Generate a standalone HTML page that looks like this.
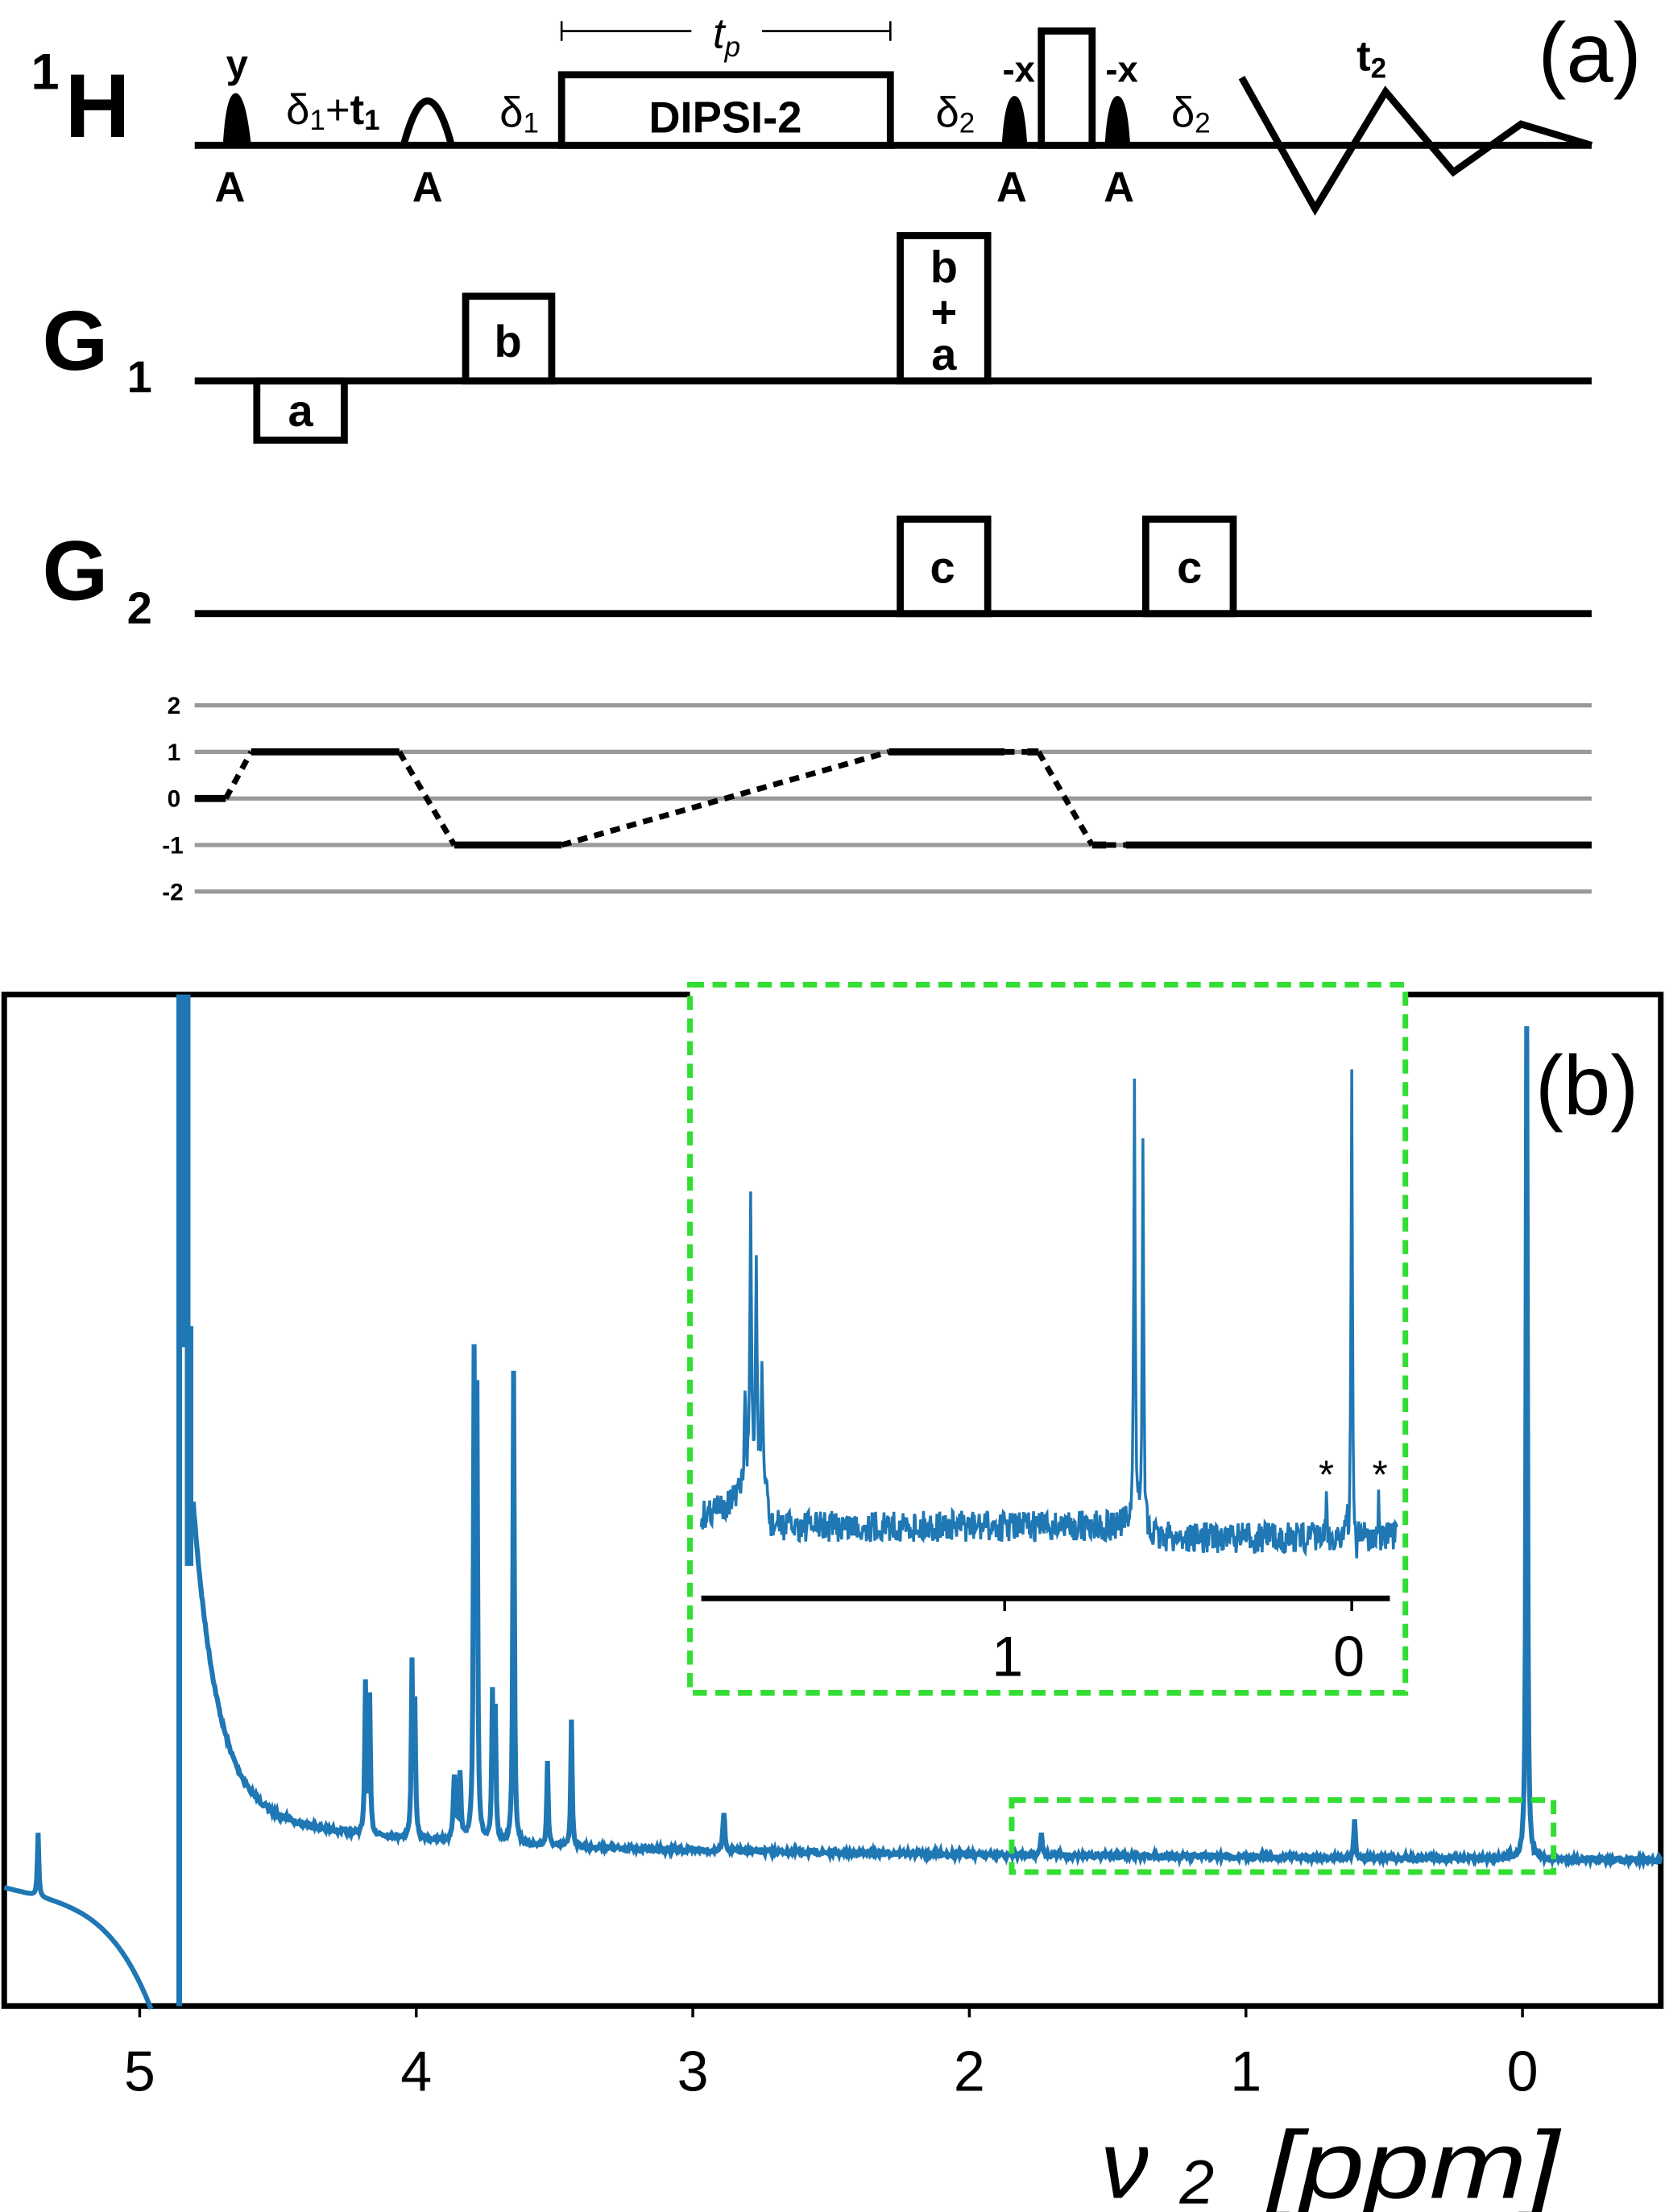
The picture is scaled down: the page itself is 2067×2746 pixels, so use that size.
<!DOCTYPE html>
<html><head><meta charset="utf-8"><style>
html,body{margin:0;padding:0;background:#fff}
svg{display:block}
text{font-family:"Liberation Sans","DejaVu Sans",sans-serif}
</style></head><body>
<svg id="s" width="2067" height="2746" viewBox="0 0 1180 1568" preserveAspectRatio="none" xmlns="http://www.w3.org/2000/svg">
<g fill="none" stroke="#000" stroke-width="5">
<line x1="138" y1="103" x2="1128" y2="103"/>
<rect x="398" y="53" width="233" height="50"/>
<rect x="738" y="22" width="36" height="81"/>
<path d="M286 103 Q303 40 320 103"/>
<polyline points="880,55 932,148 982,65 1030,122 1078,88 1128,103"/>
<line x1="138" y1="270" x2="1128" y2="270"/>
<rect x="330" y="210" width="61" height="60"/>
<rect x="182" y="270" width="62" height="42"/>
<rect x="638" y="167" width="62" height="103"/>
<line x1="138" y1="435" x2="1128" y2="435"/>
<rect x="638" y="368" width="62" height="67"/>
<rect x="812" y="368" width="62" height="67"/>
</g>
<g fill="#000">
<path d="M158 103 Q160 66 167 66 Q174 66 178 103Z"/>
<path d="M710 103 Q712 68 719 68 Q726 68 728 103Z"/>
<path d="M783 103 Q785 68 792 68 Q799 68 801 103Z"/>
</g>
<g stroke="#000" stroke-width="1.5"><line x1="398" y1="22" x2="490" y2="22"/><line x1="540" y1="22" x2="631" y2="22"/><line x1="398" y1="15" x2="398" y2="29"/><line x1="631" y1="15" x2="631" y2="29"/></g>
<text x="515" y="34" font-size="30" font-style="italic" text-anchor="middle">t<tspan font-size="20" dy="6">p</tspan></text>
<g font-weight="bold" text-anchor="middle" font-size="30">
<text x="168" y="55" font-size="28">y</text>
<text x="163" y="143">A</text><text x="303" y="143">A</text><text x="717" y="143">A</text><text x="793" y="143">A</text>
<text x="722" y="58" font-size="26">-x</text><text x="795" y="58" font-size="26">-x</text>
<text x="514" y="94" font-size="31">DIPSI-2</text>
<text x="972" y="50" font-size="30">t<tspan font-size="20" dy="5">2</tspan></text>
<text x="360" y="253" font-size="32">b</text>
<text x="213" y="302" font-size="32">a</text>
<text x="669" y="200" font-size="32">b</text><text x="669" y="232" font-size="32">+</text><text x="669" y="262" font-size="32">a</text>
<text x="668" y="413" font-size="32">c</text><text x="843" y="413" font-size="32">c</text>
</g>
<g font-size="30" text-anchor="middle">
<text x="236" y="88">δ<tspan font-size="20" dy="4">1</tspan><tspan dy="-4">+</tspan><tspan font-weight="bold">t</tspan><tspan font-size="20" dy="4" font-weight="bold">1</tspan></text>
<text x="368" y="90">δ<tspan font-size="20" dy="4">1</tspan></text>
<text x="677" y="90">δ<tspan font-size="20" dy="4">2</tspan></text>
<text x="844" y="90">δ<tspan font-size="20" dy="4">2</tspan></text>
</g>
<text x="22" y="63" font-size="36" font-weight="bold">1</text>
<text x="46" y="97" font-size="64" font-weight="bold">H</text>
<text x="30" y="262" font-size="60" font-weight="bold">G</text><text x="90" y="278" font-size="32" font-weight="bold">1</text>
<text x="30" y="425" font-size="60" font-weight="bold">G</text><text x="90" y="442" font-size="32" font-weight="bold">2</text>
<text x="1090" y="58" font-size="60">(a)</text>
<g stroke="#999" stroke-width="3"><line x1="138" y1="500" x2="1128" y2="500"/><line x1="138" y1="533" x2="1128" y2="533"/><line x1="138" y1="566" x2="1128" y2="566"/><line x1="138" y1="599" x2="1128" y2="599"/><line x1="138" y1="632" x2="1128" y2="632"/></g>
<g font-size="17" font-weight="bold" text-anchor="end"><text x="128" y="506">2</text><text x="128" y="539">1</text><text x="128" y="572">0</text><text x="130" y="605">-1</text><text x="130" y="638">-2</text></g>
<g stroke="#000" stroke-width="5" fill="none">
<line x1="138" y1="566" x2="160" y2="566"/><line x1="178" y1="533" x2="283" y2="533"/><line x1="322" y1="599" x2="398" y2="599"/><line x1="630" y1="533" x2="712" y2="533"/><line x1="728" y1="533" x2="736" y2="533"/><line x1="774" y1="599" x2="784" y2="599"/><line x1="798" y1="599" x2="1128" y2="599"/>
</g>
<g stroke="#000" stroke-width="4" fill="none" stroke-dasharray="7,5">
<path d="M160 566 L178 533"/><path d="M283 533 L322 599"/><path d="M398 599 L630 533"/><path d="M712 533 L728 533"/><path d="M736 533 L774 599"/><path d="M784 599 L798 599"/>
</g>
<rect x="3" y="705" width="1174" height="717" fill="none" stroke="#000" stroke-width="4"/>
<text x="1088" y="790" font-size="60">(b)</text>
<g font-size="40" text-anchor="middle"><text x="99" y="1482">5</text><text x="295" y="1482">4</text><text x="491" y="1482">3</text><text x="687" y="1482">2</text><text x="883" y="1482">1</text><text x="1079" y="1482">0</text></g>
<g stroke="#000" stroke-width="2"><line x1="99" y1="1422" x2="99" y2="1430"/><line x1="295" y1="1422" x2="295" y2="1430"/><line x1="491" y1="1422" x2="491" y2="1430"/><line x1="687" y1="1422" x2="687" y2="1430"/><line x1="883" y1="1422" x2="883" y2="1430"/><line x1="1079" y1="1422" x2="1079" y2="1430"/></g>
<text x="780" y="1558" font-size="68" font-style="italic">ν</text>
<text x="836" y="1562" font-size="44" font-style="italic">2</text>
<text x="898" y="1558" font-size="68" font-style="italic" textLength="207" lengthAdjust="spacingAndGlyphs">[ppm]</text>
<g id="spec" fill="none" stroke="#1f77b4" stroke-width="3.5"></g>
<rect x="717" y="1276" width="384" height="51" fill="none" stroke="#33dd33" stroke-width="4" stroke-dasharray="10,6"/>
<rect x="489" y="698" width="507" height="502" fill="#fff" stroke="#33dd33" stroke-width="4" stroke-dasharray="10,6"/>
<g id="ins" fill="none" stroke="#1f77b4" stroke-width="2"></g>
<line x1="497" y1="1133" x2="985" y2="1133" stroke="#000" stroke-width="4"/>
<g stroke="#000" stroke-width="2"><line x1="712" y1="1133" x2="712" y2="1142"/><line x1="958" y1="1133" x2="958" y2="1142"/></g>
<g font-size="40" text-anchor="middle"><text x="714" y="1188">1</text><text x="956" y="1188">0</text></g>
<g font-size="28" text-anchor="middle"><text x="940" y="1055">*</text><text x="978" y="1055">*</text></g>
</svg>
<script>
var seed=7;function r(){seed=(seed*16807)%2147483647;return seed/2147483647;}
function pk(x,list){var v=0;for(var i=0;i<list.length;i++){var p=list[i];var d=(x-p[0])/p[2];v+=p[1]/(1+d*d);}return v;}
var P=[[27,45,0.6],[259,106,0.6],[262,95,0.6],[292,120,0.6],[294,90,0.6],[322,45,0.9],[326,45,0.9],[336,328,0.6],[338,300,0.6],[349,100,0.6],[351,90,0.6],[364,335,0.6],[388,60,0.6],[405,90,0.6],[513,28,0.8],[738,16,0.8],[960,26,0.7],[1070,6,0.5],[1082,590,0.6]];
var pts=[];
for(var x=3;x<=107;x+=0.5){var y=1338+ (x-3)*0.25 + Math.pow((x-3)/104,4)*60 - pk(x,P);pts.push(x+","+y.toFixed(1));}
var s='<polyline points="'+pts.join(" ")+'"/>';
s+='<line x1="127" y1="705" x2="127" y2="1422" stroke-width="4"/><rect x="127" y="705" width="8" height="250" fill="#1f77b4" stroke="none"/><rect x="131" y="940" width="6" height="170" fill="#1f77b4" stroke="none"/>';
pts=[];
for(var x=137;x<=1177;x+=0.5){var base=1314-190*Math.exp(-(x-139)/17)-30*Math.exp(-(x-139)/120)+(x-600)*0.008;var y=base+(r()-0.5)*3-pk(x,P);if(y<705)y=705;pts.push(x+","+y.toFixed(1));}
s+='<polyline points="'+pts.join(" ")+'"/>';
document.getElementById("spec").innerHTML=s;
var Q=[[528,60,0.8],[532,200,0.7],[536,160,0.7],[540,80,0.7],[804,310,0.6],[810,290,0.6],[940,25,0.4],[958,345,0.6],[977,25,0.4]];
pts=[];
for(var x=497;x<=990;x+=0.5){var b=x<540?1075-(x-497)*0.5:(x<808?1082:1090);if(x>530&&x<545)b=1060;var y=b+(r()-0.5)*22-pk(x,Q);if(x>955&&x<962)y+=15;pts.push(x+","+y.toFixed(1));}
document.getElementById("ins").innerHTML='<polyline points="'+pts.join(" ")+'"/>';
</script>
</body></html>
